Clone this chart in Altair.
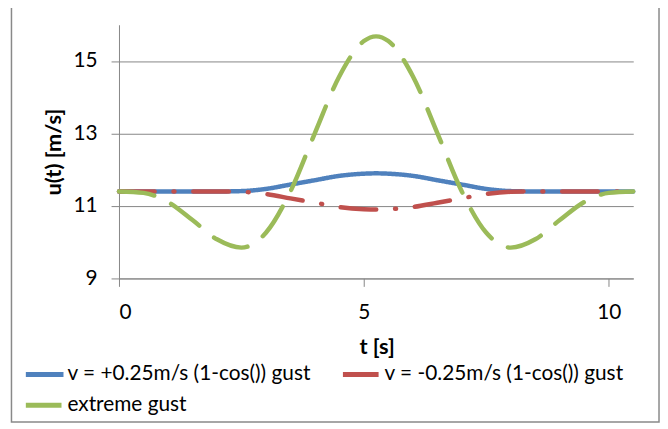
import altair as alt
import pandas as pd

t_vals = [0, 0.5, 1, 1.5, 2, 2.5, 3, 3.5, 4, 4.5, 5, 5.25, 5.5, 6, 6.5, 7, 7.5, 8, 8.5, 9, 9.5, 10, 10.5]
blue_vals = [11.4, 11.4, 11.4, 11.4, 11.4, 11.41, 11.47, 11.59, 11.71, 11.83, 11.89, 11.9, 11.89,
             11.83, 11.71, 11.59, 11.47, 11.41, 11.4, 11.4, 11.4, 11.4, 11.4]
red_vals = [11.4, 11.4, 11.4, 11.4, 11.4, 11.39, 11.33, 11.21, 11.09, 10.97, 10.91, 10.9, 10.91,
            10.97, 11.09, 11.21, 11.33, 11.39, 11.4, 11.4, 11.4, 11.4, 11.4]
green_vals = [11.4, 11.36, 11.11, 10.61, 10.08, 9.85, 10.26, 11.4, 13.01, 14.58, 15.55, 15.68, 15.55,
              14.58, 13.01, 11.4, 10.26, 9.85, 10.08, 10.61, 11.11, 11.36, 11.4]

series_names = [
    "v = +0.25m/s (1-cos()) gust",
    "v = -0.25m/s (1-cos()) gust",
    "extreme gust",
]
series_colors = ["#4F81BD", "#C0504D", "#9BBB59"]
series_dash = [[1, 0], [36, 19, 1, 19], [36, 19]]
legend_order = [series_names[0], series_names[2], series_names[1]]

x_ticks = [0, 5, 10]
y_ticks = [9, 11, 13, 15]

rows = []
for name, vals in zip(series_names, [blue_vals, red_vals, green_vals]):
    for i, (t, v) in enumerate(zip(t_vals, vals)):
        rows.append({"t": t, "u": v, "series": name, "order": i})
df = pd.DataFrame(rows)

FONT = "Lato"
GRAY = "#868686"

lines = alt.Chart(df).mark_line(strokeWidth=4.5, strokeCap="round", interpolate="monotone").encode(
    x=alt.X("t:Q", scale=alt.Scale(domain=[0, 10.5], nice=False),
            axis=alt.Axis(values=x_ticks, grid=False, title="t [s]", tickSize=8,
                          labelPadding=26, labelBaseline="middle",
                          titleX=260, titleY=69, titleBaseline="middle", titleAlign="center")),
    y=alt.Y("u:Q", scale=alt.Scale(domain=[9, 16], nice=False),
            axis=alt.Axis(values=y_ticks, grid=True, title="u(t) [m/s]", tickSize=8,
                          labelPadding=14,
                          titleX=-66, titleY=128, titleAngle=-90,
                          titleBaseline="middle", titleAlign="center")),
    color=alt.Color("series:N", scale=alt.Scale(domain=series_names, range=series_colors),
                    legend=alt.Legend(orient="none", legendX=-87, legendY=341, columns=2,
                                      values=legend_order,
                                      title=None, symbolType="M-2,0H2", symbolSize=361,
                                      symbolStrokeWidth=5, labelFontSize=21, labelFont=FONT,
                                      labelColor="black", labelLimit=600, labelOffset=11,
                                      columnPadding=22, rowPadding=9, padding=0)),
    strokeDash=alt.StrokeDash("series:N", scale=alt.Scale(domain=series_names, range=series_dash),
                              legend=None),
    order="order:Q",
)

frame = alt.Chart(pd.DataFrame({"a": [0]})).mark_rect(
    fill="white", fillOpacity=0, stroke="#898989", strokeWidth=1.5, clip=False
).encode(
    x=alt.value(-108.5), x2=alt.value(545), y=alt.value(-20), y2=alt.value(401)
)

chart = alt.layer(frame, lines).properties(
    width=519, height=256,
    autosize=alt.AutoSizeParams(type="none"),
    padding={"left": 112, "top": 15, "right": 27, "bottom": 146},
).configure_view(stroke=None).configure_axis(
    domainColor=GRAY, tickColor=GRAY, gridColor=GRAY, gridWidth=1, domainWidth=1, tickWidth=1,
    labelFont=FONT, labelFontSize=21, labelColor="black",
    titleFont=FONT, titleFontSize=22, titleFontWeight="bold", titleColor="black",
)

chart.save("out.html", embed_options={"renderer": "svg", "actions": False})
